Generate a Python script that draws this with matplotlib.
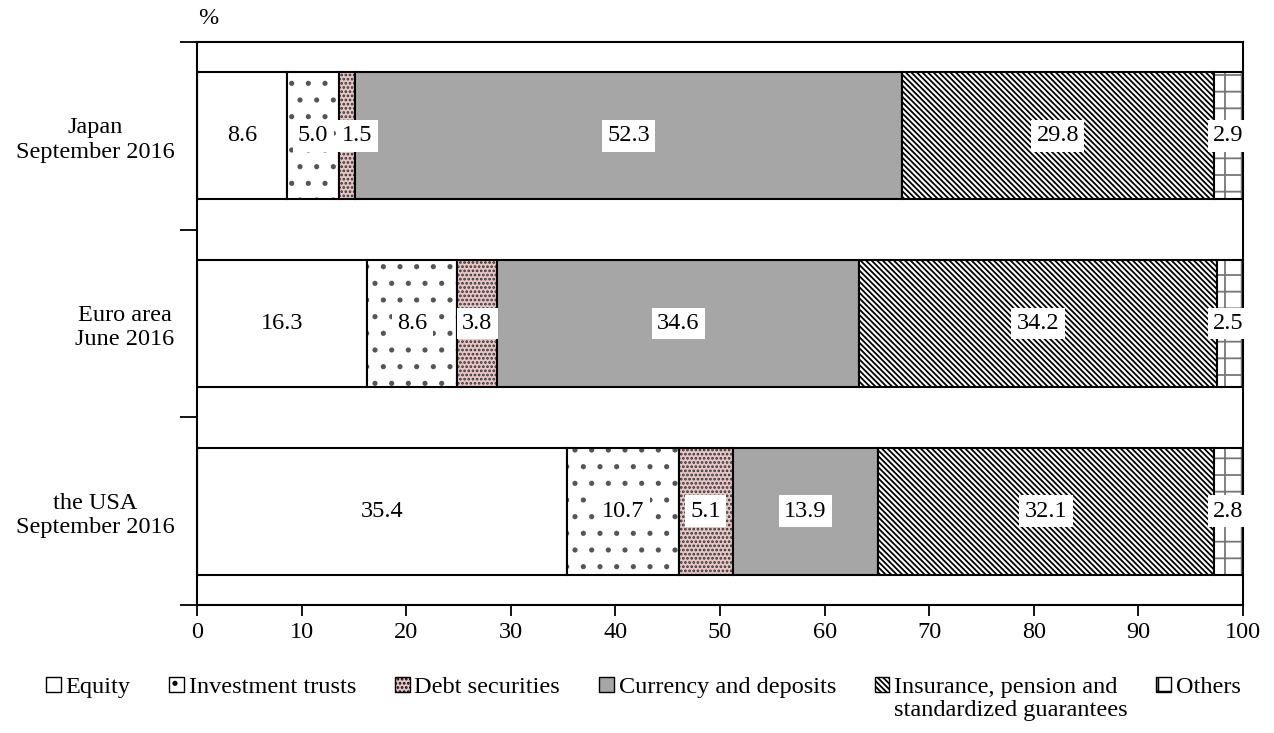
import numpy as np
import matplotlib
matplotlib.use('Agg')
import matplotlib.pyplot as plt
from matplotlib.patches import Patch

plt.rcParams['font.family'] = ['Liberation Serif', 'DejaVu Serif']
plt.rcParams['font.size'] = 17.5
plt.rcParams['hatch.linewidth'] = 1.3

# data (percent of household financial assets)
regions = ['Japan\nSeptember 2016', 'Euro area\nJune 2016', 'the USA\nSeptember 2016']
series = ['Equity', 'Investment trusts', 'Debt securities', 'Currency and deposits',
          'Insurance, pension and', 'Others']
series_extra = 'standardized guarantees'   # second line of the insurance entry
equity = [8.6, 16.3, 35.4]
inv_trusts = [5.0, 8.6, 10.7]
debt = [1.5, 3.8, 5.1]
currency = [52.3, 34.6, 13.9]
insurance = [29.8, 34.2, 32.1]
others = [2.9, 2.5, 2.8]
data = [equity, inv_trusts, debt, currency, insurance, others]

# (facecolor, hatch, hatch colour)
styles = [
    ('white', None, 'black'),
    ('white', '.', '#555555'),
    ('#e8c6c6', '....', '#333333'),
    ('#a6a6a6', None, 'black'),
    ('white', '\\\\\\\\\\\\', 'black'),
    ('white', '+', '#777777'),
]

fig = plt.figure(figsize=(12.74, 7.33), dpi=100)
ax = fig.add_axes([0.1546, 0.1746, 0.8211, 0.7681])

y = np.arange(len(regions))
left = np.zeros(len(regions))
labels = [[] for _ in regions]
for vals, (fc, hatch, hc) in zip(data, styles):
    vals = np.array(vals)
    ax.barh(y, vals, left=left, height=0.675, color=fc, edgecolor=hc,
            hatch=hatch, linewidth=0)
    ax.barh(y, vals, left=left, height=0.675, fill=False, edgecolor='black',
            linewidth=1.5)
    for yi, v, l in zip(y, vals, left):
        xc = min(l + v / 2, 98.6)
        t = ax.text(xc, yi, f'{v:.1f}', ha='center', va='center',
                    bbox=dict(boxstyle='square,pad=0.22', fc='white', ec='none'))
        labels[yi].append(t)
    left += vals

ax.set_xlim(0, 100)
ax.set_ylim(2.5, -0.5)
ax.set_xticks(np.arange(0, 101, 10))
ax.tick_params(axis='x', direction='out', length=8, width=1.3, pad=4)
ax.set_yticks(y, regions)
ax.set_yticks([-0.5, 0.5, 1.5, 2.5], minor=True)
ax.tick_params(axis='y', which='major', length=0, pad=16)
ax.tick_params(axis='y', which='minor', direction='out', length=12, width=1.3)
for lbl in ax.get_yticklabels():
    lbl.set_multialignment('center')
for sp in ax.spines.values():
    sp.set_linewidth(1.5)

fig.text(208 / 1274, 1 - 18 / 733, '%', ha='center', va='center')

handles = [Patch(facecolor=fc, edgecolor='black', hatch=h, linewidth=1)
           for fc, h, hc in styles]
leg = fig.legend(handles, series, loc='upper center', bbox_to_anchor=(0.505, 0.093),
                 ncol=6, frameon=False, handlelength=0.6, handleheight=0.6,
                 handletextpad=0.2, columnspacing=1.6, borderpad=0)

fig.canvas.draw()

# push overlapping value labels apart (left to right within a bar)
px_per_unit = ax.transData.transform((1, 0))[0] - ax.transData.transform((0, 0))[0]
for row in labels:
    prev_right = None
    for t in row:
        bx = t.get_bbox_patch().get_window_extent()
        if prev_right is not None and bx.x0 < prev_right + 3:
            shift = (prev_right + 3 - bx.x0) / px_per_unit
            t.set_x(t.get_position()[0] + shift)
            fig.canvas.draw()
            bx = t.get_bbox_patch().get_window_extent()
        prev_right = bx.x1

# second line of the insurance label, placed under the first line
bb = leg.get_texts()[4].get_window_extent().transformed(fig.transFigure.inverted())
fig.text(bb.x0, bb.y0 - 0.003, series_extra, ha='left', va='top')

fig.savefig('out.png', dpi=100)
